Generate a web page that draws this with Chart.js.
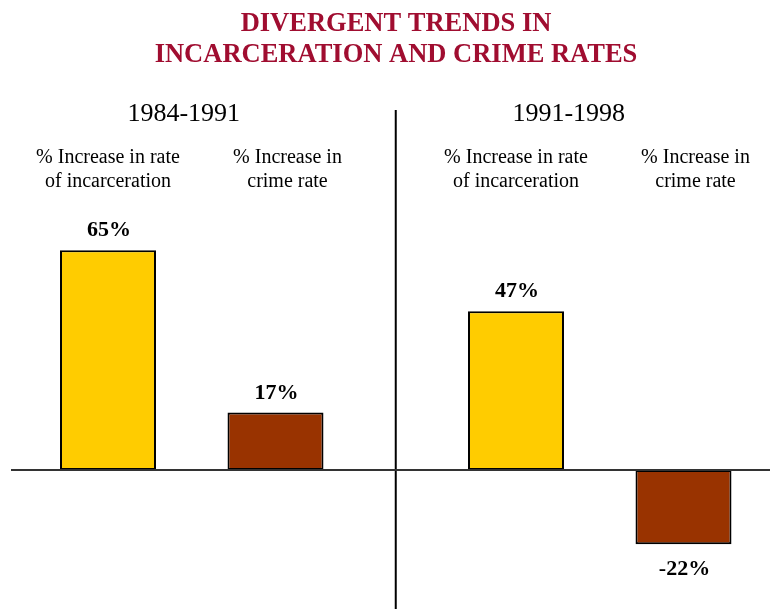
<!DOCTYPE html>
<html>
<head>
<meta charset="utf-8">
<script src="https://cdn.jsdelivr.net/npm/chart.js@4/dist/chart.umd.min.js"></script>
<style>
  html, body { margin: 0; padding: 0; background: #ffffff; }
  #wrap { width: 770px; height: 609px; }
</style>
</head>
<body>
<div id="wrap"><canvas id="c" width="770" height="609"></canvas></div>
<script>
// ---- data ----
const chartTitle = ['DIVERGENT TRENDS IN', 'INCARCERATION AND CRIME RATES'];
const periods = ['1984-1991', '1991-1998'];
const seriesLabels = [
  ['% Increase in rate', 'of incarceration'],
  ['% Increase in', 'crime rate']
];
const incarcerationIncrease = [65, 47];
const crimeIncrease = [17, -22];
const valueSuffix = '%';

// ---- styles ----
const SERIF = "'Liberation Serif', 'Times New Roman', serif";
const colors = ['#FFCC00', '#993300'];

const overlay = {
  id: 'overlay',
  afterDraw(chart) {
    const ctx = chart.ctx;
    const xs = chart.scales.x, ys = chart.scales.y;
    const zeroY = ys.getPixelForValue(0);
    ctx.save();

    // title
    ctx.fillStyle = '#A00D30';
    ctx.font = 'bold 26.5px ' + SERIF;
    ctx.textAlign = 'center';
    ctx.textBaseline = 'alphabetic';
    ctx.fillText(chartTitle[0], 396, 31);
    ctx.fillText(chartTitle[1], 396, 62);

    // divider between periods
    const divX = xs.getPixelForValue(0.5);
    ctx.strokeStyle = '#000000';
    ctx.lineWidth = 2;
    ctx.beginPath();
    ctx.moveTo(divX, 110);
    ctx.lineTo(divX, 609);
    ctx.stroke();

    // zero line
    ctx.strokeStyle = '#333333';
    ctx.lineWidth = 2;
    ctx.beginPath();
    ctx.moveTo(11, zeroY);
    ctx.lineTo(770, zeroY);
    ctx.stroke();

    // period headers
    ctx.fillStyle = '#000000';
    ctx.font = '26px ' + SERIF;
    const hdrShift = [-8, -31];
    periods.forEach((p, i) => {
      ctx.fillText(p, xs.getPixelForValue(i) + hdrShift[i], 121);
    });

    // series labels + value labels
    chart.data.datasets.forEach((ds, di) => {
      const meta = chart.getDatasetMeta(di);
      meta.data.forEach((bar, i) => {
        ctx.fillStyle = '#000000';
        ctx.font = '20px ' + SERIF;
        const lx = bar.x + (di === 1 ? 12 : 0);
        ctx.fillText(seriesLabels[di][0], lx, 163);
        ctx.fillText(seriesLabels[di][1], lx, 187);

        const v = ds.data[i];
        ctx.font = 'bold 22px ' + SERIF;
        const txt = v + valueSuffix;
        if (v >= 0) {
          ctx.fillText(txt, bar.x + 1, bar.y - 14);
        } else {
          ctx.fillText(txt, bar.x + 1, bar.y + 31);
        }
      });
    });
    ctx.restore();
  }
};

new Chart(document.getElementById('c'), {
  type: 'bar',
  data: {
    labels: periods,
    datasets: [
      {
        label: seriesLabels[0].join(' '),
        data: incarcerationIncrease,
        backgroundColor: colors[0],
        borderColor: '#000000',
        borderWidth: 2,
        borderSkipped: false,
        clip: false
      },
      {
        label: seriesLabels[1].join(' '),
        data: crimeIncrease,
        backgroundColor: colors[1],
        borderColor: '#000000',
        borderWidth: 2,
        borderSkipped: false,
        clip: false
      }
    ]
  },
  options: {
    responsive: false,
    animation: false,
    events: [],
    categoryPercentage: 0.8211,
    barPercentage: 0.5731,
    layout: { padding: { left: 191.75, right: 170.25, top: 132, bottom: 3.8 } },
    plugins: { legend: { display: false }, title: { display: false }, tooltip: { enabled: false } },
    scales: {
      x: { type: 'category', offset: false, display: false, grid: { display: false } },
      y: { min: -40, max: 100, display: false, grid: { display: false } }
    }
  },
  plugins: [overlay]
});
</script>
</body>
</html>
